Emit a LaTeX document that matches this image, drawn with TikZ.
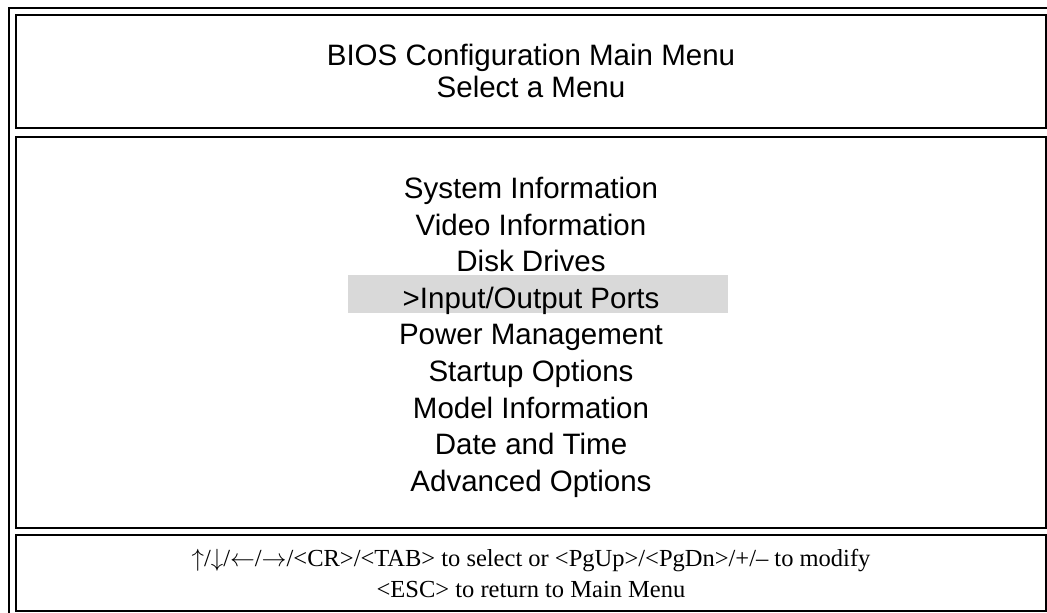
\documentclass[tikz,border=0pt]{standalone}
\usepackage{fontspec}
\setmainfont{Liberation Serif}
\newfontfamily\arialfont{Liberation Sans}
\usetikzlibrary{positioning}

\begin{document}
\begin{tikzpicture}[
    x=1pt, y=-1pt,
    frame/.style={draw, line width=2pt},
    panel/.style={draw, line width=2pt},
    screentext/.style={font=\arialfont\fontsize{29.5}{35}\selectfont, inner sep=0pt, anchor=base},
    hint/.style={font=\fontsize{24.5}{30}\selectfont, inner sep=0pt, anchor=base}
]
    \useasboundingbox (0,0) rectangle (1047,613);
    \clip (0,0) rectangle (1047,613);

    % Outer frame
    \draw[frame] (9,7.5) rectangle (1060,625);

    % Title panel
    \draw[panel] (16,15) rectangle (1046,128);
    \node[screentext] (title) at (531,65) {BIOS Configuration Main Menu};
    \node[screentext] (subtitle) at (531,97) {Select a Menu};

    % Menu panel
    \draw[panel] (16,137) rectangle (1046,528);
    \fill[gray!30] (348,275) rectangle (728,313);
    \foreach \entry [count=\i] in {System Information, Video Information, Disk Drives,
        >Input/Output Ports, Power Management, Startup Options,
        Model Information, Date and Time, Advanced Options}
        \node[screentext] (item\i) at (531,{198.5+36.6*(\i-1)}) {\entry};

    % Key help panel
    \draw[panel] (16,535) rectangle (1046,611);
    \node[hint] (keys) at (531,566) {$\uparrow$/$\downarrow$/$\leftarrow$/$\rightarrow$/<CR>/<TAB> to select or <PgUp>/<PgDn>/+/– to modify};
    \node[hint] (escape) at (531,597) {<ESC> to return to Main Menu};
\end{tikzpicture}
\end{document}
